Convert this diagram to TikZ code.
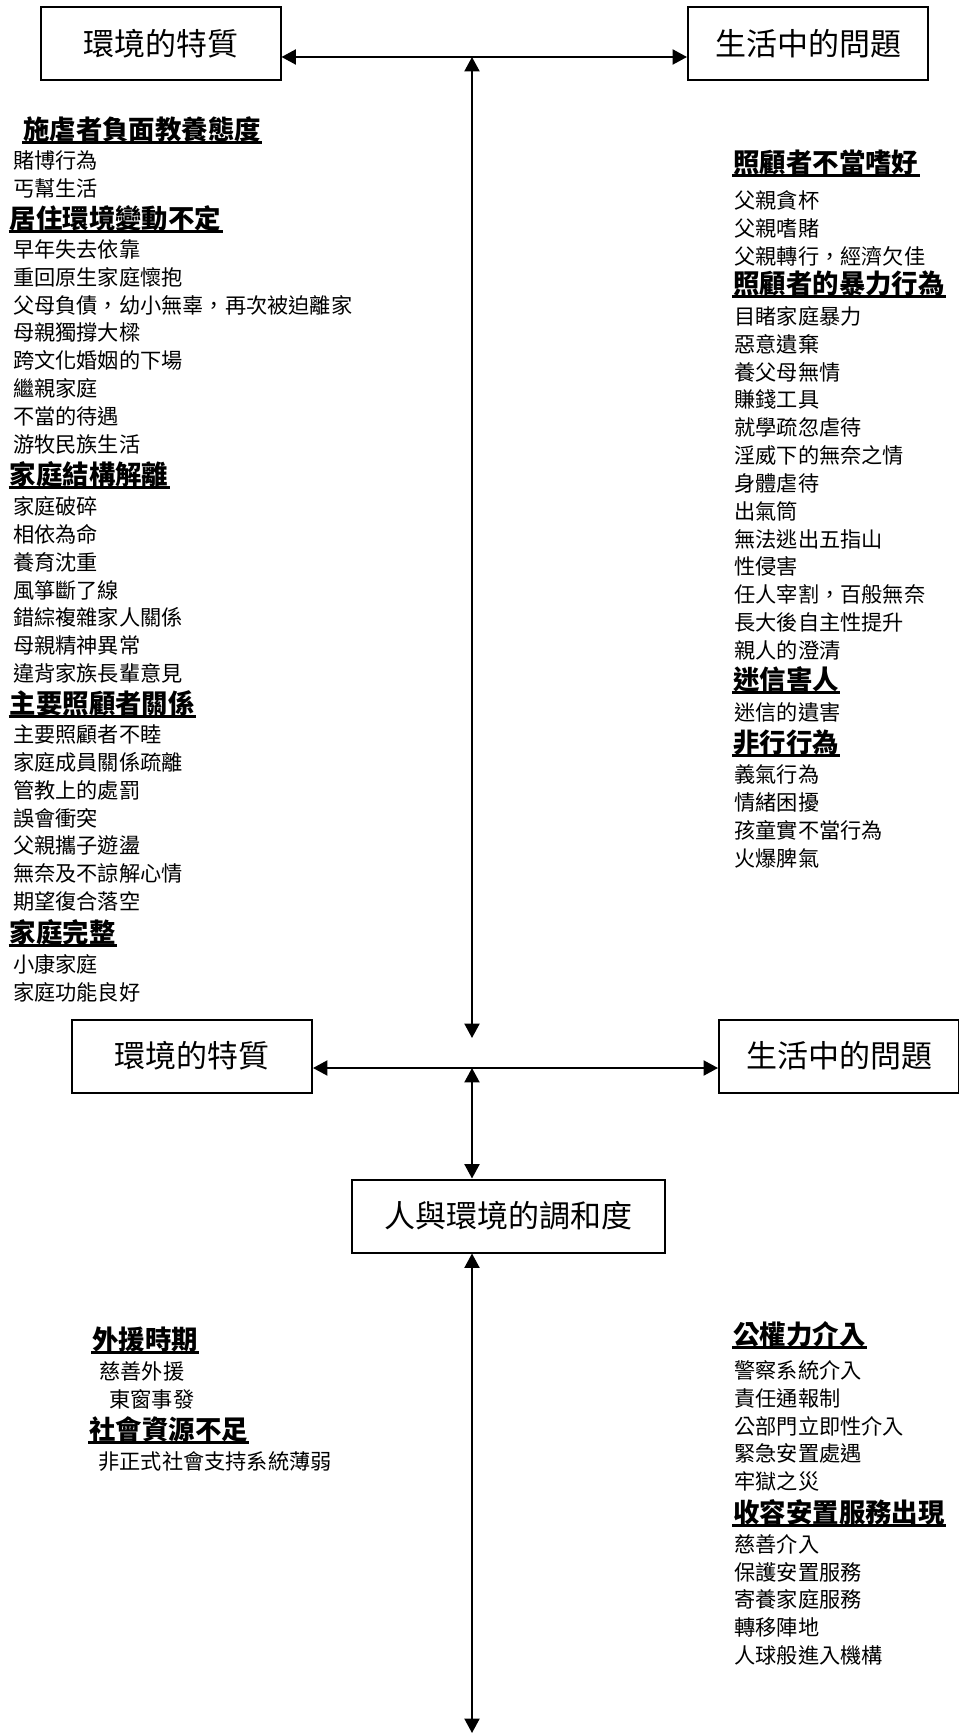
\documentclass[tikz,border=0pt]{standalone}
\usepackage{fontspec}
\newfontfamily\cjk{Noto Sans CJK TC}
\usetikzlibrary{arrows.meta}

\tikzset{
  box/.style={draw, line width=1pt, minimum width=120pt, minimum height=36.5pt, inner sep=0pt,
    font=\cjk\fontsize{15.5}{18}\selectfont},
  link/.style={line width=1pt, {Triangle[length=7.2pt,width=7.5pt]}-{Triangle[length=7.2pt,width=7.5pt]}},
  head/.style={anchor=west, inner xsep=0.5pt, inner ysep=0pt, text height=0.86em, text depth=0.12em,
    font=\cjk\bfseries\fontsize{13.2}{15}\selectfont,
    append after command={(\tikzlastnode.south west) edge[line width=1.4pt] (\tikzlastnode.south east)}},
  item/.style={anchor=west, inner sep=0pt, text height=0.86em, text depth=0.1em,
    font=\cjk\fontsize{10.6}{13}\selectfont}
}

\begin{document}
\begin{tikzpicture}[x=0.5pt,y=-0.5pt]
\useasboundingbox (0,0) rectangle (958,1733);

\node[box] (envA) at (160.5,43.5) {環境的特質};
\node[box] (probA) at (808,43.5) {生活中的問題};
\node[box] (envB) at (192,1056) {環境的特質};
\node[box] (probB) at (839,1056) {生活中的問題};
\node[box, minimum width=156.5pt] (fit) at (508.5,1216) {人與環境的調和度};

\coordinate (topHub) at (472,57);
\coordinate (midHub) at (472,1068);
\coordinate (bottomEnd) at (472,1733);

\draw[link] (envA.east |- topHub) -- (probA.west |- topHub);
\draw[link] (topHub) -- ([yshift=15pt]midHub);
\draw[link] (envB.east |- midHub) -- (probB.west |- midHub);
\draw[link] (midHub) -- (fit.north -| midHub);
\draw[link] (fit.south -| midHub) -- (bottomEnd);

% left column
\node[head] (s1) at (22,132) {施虐者負面教養態度};
\foreach \t [count=\i from 0] in {賭博行為,丐幫生活}
  \node[item] (s1-\i) at (12.7,161+27.8*\i) {\t};
\node[head] (s2) at (8.5,221) {居住環境變動不定};
\foreach \t [count=\i from 0] in {早年失去依靠,重回原生家庭懷抱,父母負債，幼小無辜，再次被迫離家,母親獨撐大樑,跨文化婚姻的下場,繼親家庭,不當的待遇,游牧民族生活}
  \node[item] (s2-\i) at (12.7,250+27.8*\i) {\t};
\node[head] (s3) at (8.5,477) {家庭結構解離};
\foreach \t [count=\i from 0] in {家庭破碎,相依為命,養育沈重,風箏斷了線,錯綜複雜家人關係,母親精神異常,違背家族長輩意見}
  \node[item] (s3-\i) at (12.7,507+27.8*\i) {\t};
\node[head] (s4) at (8.5,706) {主要照顧者關係};
\foreach \t [count=\i from 0] in {主要照顧者不睦,家庭成員關係疏離,管教上的處罰,誤會衝突,父親攜子遊盪,無奈及不諒解心情,期望復合落空}
  \node[item] (s4-\i) at (12.7,735+27.8*\i) {\t};
\node[head] (s5) at (8.5,935) {家庭完整};
\foreach \t [count=\i from 0] in {小康家庭,家庭功能良好}
  \node[item] (s5-\i) at (12.7,965+27.8*\i) {\t};

% right column
\node[head] (r1) at (732,165) {照顧者不當嗜好};
\foreach \t [count=\i from 0] in {父親貪杯,父親嗜賭,父親轉行，經濟欠佳}
  \node[item] (r1-\i) at (734,201+27.8*\i) {\t};
\node[head] (r2) at (732,286.5) {照顧者的暴力行為};
\foreach \t [count=\i from 0] in {目睹家庭暴力,惡意遺棄,養父母無情,賺錢工具,就學疏忽虐待,淫威下的無奈之情,身體虐待,出氣筒,無法逃出五指山,性侵害,任人宰割，百般無奈,長大後自主性提升,親人的澄清}
  \node[item] (r2-\i) at (734,317+27.8*\i) {\t};
\node[head] (r3) at (732,682) {迷信害人};
\node[item] (r3-0) at (734,713) {迷信的遺害};
\node[head] (r4) at (732,745) {非行行為};
\foreach \t [count=\i from 0] in {義氣行為,情緒困擾,孩童實不當行為,火爆脾氣}
  \node[item] (r4-\i) at (734,775+27.8*\i) {\t};

% bottom
\node[head] (b1) at (91,1342) {外援時期};
\node[item] (b1-0) at (99,1372) {慈善外援};
\node[item] (b1-1) at (109,1400) {東窗事發};
\node[head] (b2) at (88,1432) {社會資源不足};
\node[item] (b2-0) at (98,1462) {非正式社會支持系統薄弱};

\node[head] (c1) at (732,1337) {公權力介入};
\foreach \t [count=\i from 0] in {警察系統介入,責任通報制,公部門立即性介入,緊急安置處遇,牢獄之災}
  \node[item] (c1-\i) at (734,1371.3+27.6*\i) {\t};
\node[head] (c2) at (732,1515) {收容安置服務出現};
\foreach \t [count=\i from 0] in {慈善介入,保護安置服務,寄養家庭服務,轉移陣地,人球般進入機構}
  \node[item] (c2-\i) at (734,1545+27.6*\i) {\t};
\end{tikzpicture}
\end{document}
